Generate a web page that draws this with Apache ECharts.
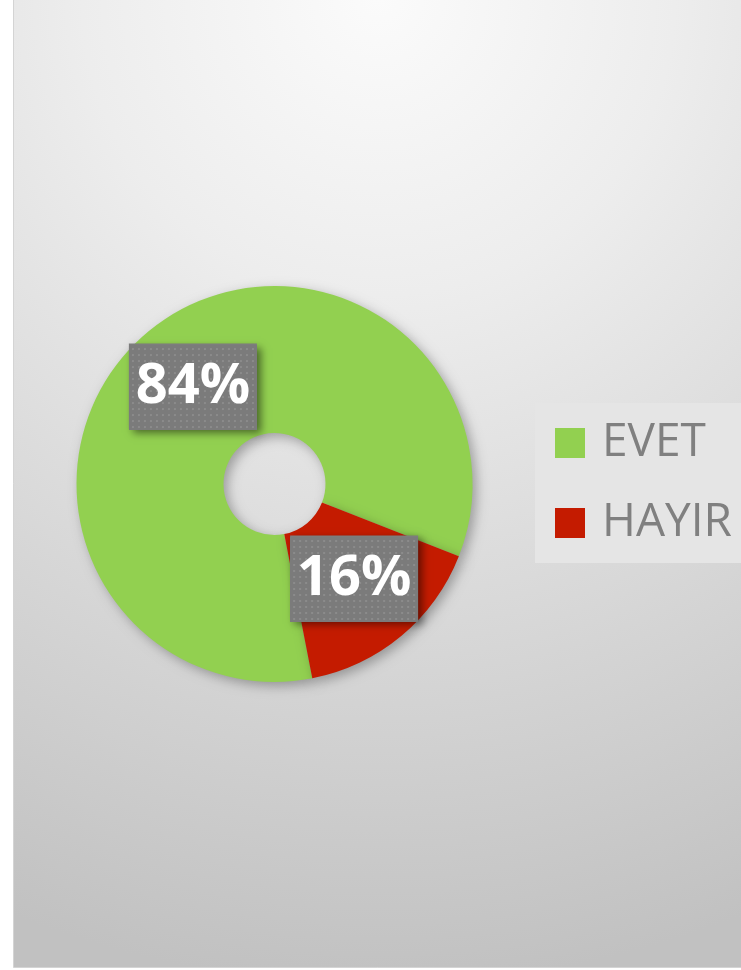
<!DOCTYPE html>
<html>
<head>
<meta charset="utf-8">
<script src="https://cdn.jsdelivr.net/npm/echarts@6/dist/echarts.min.js"></script>
<style>
  html, body { margin: 0; padding: 0; background: #ffffff; }
  #chart { width: 741px; height: 970px; }
</style>
</head>
<body>
<div id="chart"></div>
<script>
// Survey answers
const categories = ['EVET', 'HAYIR'];
const shares = [84, 16];
const sliceColors = ['#92d050', '#c41b00'];

// Dotted grey tile used behind the percentage labels
function dottedTile(w, h) {
  const c = document.createElement('canvas');
  c.width = w; c.height = h;
  const g = c.getContext('2d');
  g.fillStyle = '#7b7b7b';
  g.fillRect(0, 0, w, h);
  g.fillStyle = '#8b8b8b';
  for (let y = 3; y < h; y += 6) {
    for (let x = 3; x < w; x += 6) {
      g.fillRect(x, y, 2, 2);
    }
  }
  return c;
}
const tile = dottedTile(128, 85);

const chart = echarts.init(document.getElementById('chart'), null, { renderer: 'canvas' });

chart.setOption({
  animation: false,
  backgroundColor: '#ffffff',
  graphic: [{
    type: 'rect',
    z: -10,
    shape: { x: 13.5, y: -1, width: 730, height: 968.5 },
    style: {
      fill: {
        type: 'radial', x: 0.5, y: 0, r: 1.35,
        colorStops: [
          { offset: 0, color: '#fbfbfb' },
          { offset: 0.3, color: '#ededed' },
          { offset: 0.62, color: '#d9d9d9' },
          { offset: 1, color: '#c1c1c1' }
        ]
      },
      stroke: '#d4d4d4',
      lineWidth: 1
    },
    silent: true
  }],
  legend: {
    orient: 'vertical',
    left: 535,
    top: 403,
    data: categories,
    icon: 'rect',
    itemWidth: 30,
    itemHeight: 30,
    itemGap: 34,
    padding: [17, 40, 17, 20],
    backgroundColor: '#e5e5e5',
    selectedMode: false,
    textStyle: {
      fontFamily: 'Open Sans',
      fontSize: 46,
      lineHeight: 46,
      color: '#808080',
      padding: [0, 0, 0, 12]
    }
  },
  series: [{
    type: 'pie',
    center: [274.5, 484],
    radius: [51, 198],
    startAngle: -79,
    clockwise: true,
    silent: true,
    avoidLabelOverlap: false,
    itemStyle: {
      shadowBlur: 12,
      shadowColor: 'rgba(0,0,0,0.3)',
      shadowOffsetX: 4,
      shadowOffsetY: 4
    },
    label: {
      show: true,
      position: 'inside',
      formatter: '{p|{c}%}',
      padding: 0,
      width: 128,
      height: 85,
      align: 'center',
      verticalAlign: 'middle',
      backgroundColor: '#7d7d7d',
      shadowColor: 'rgba(0,0,0,0.5)',
      shadowBlur: 8,
      shadowOffsetX: 4,
      shadowOffsetY: 4,
      rich: {
        p: {
          fontFamily: 'Open Sans',
          fontWeight: 'bold',
          fontSize: 56,
          color: '#ffffff',
          width: 128,
          height: 85,
          lineHeight: 88,
          align: 'center',
          backgroundColor: { image: tile }
        }
      }
    },
    labelLine: { show: false },
    data: categories.map((name, i) => ({
      name: name,
      value: shares[i],
      itemStyle: { color: sliceColors[i] },
      label: i === 1 ? { offset: [-2, -4] } : {}
    }))
  }]
});
</script>
</body>
</html>
